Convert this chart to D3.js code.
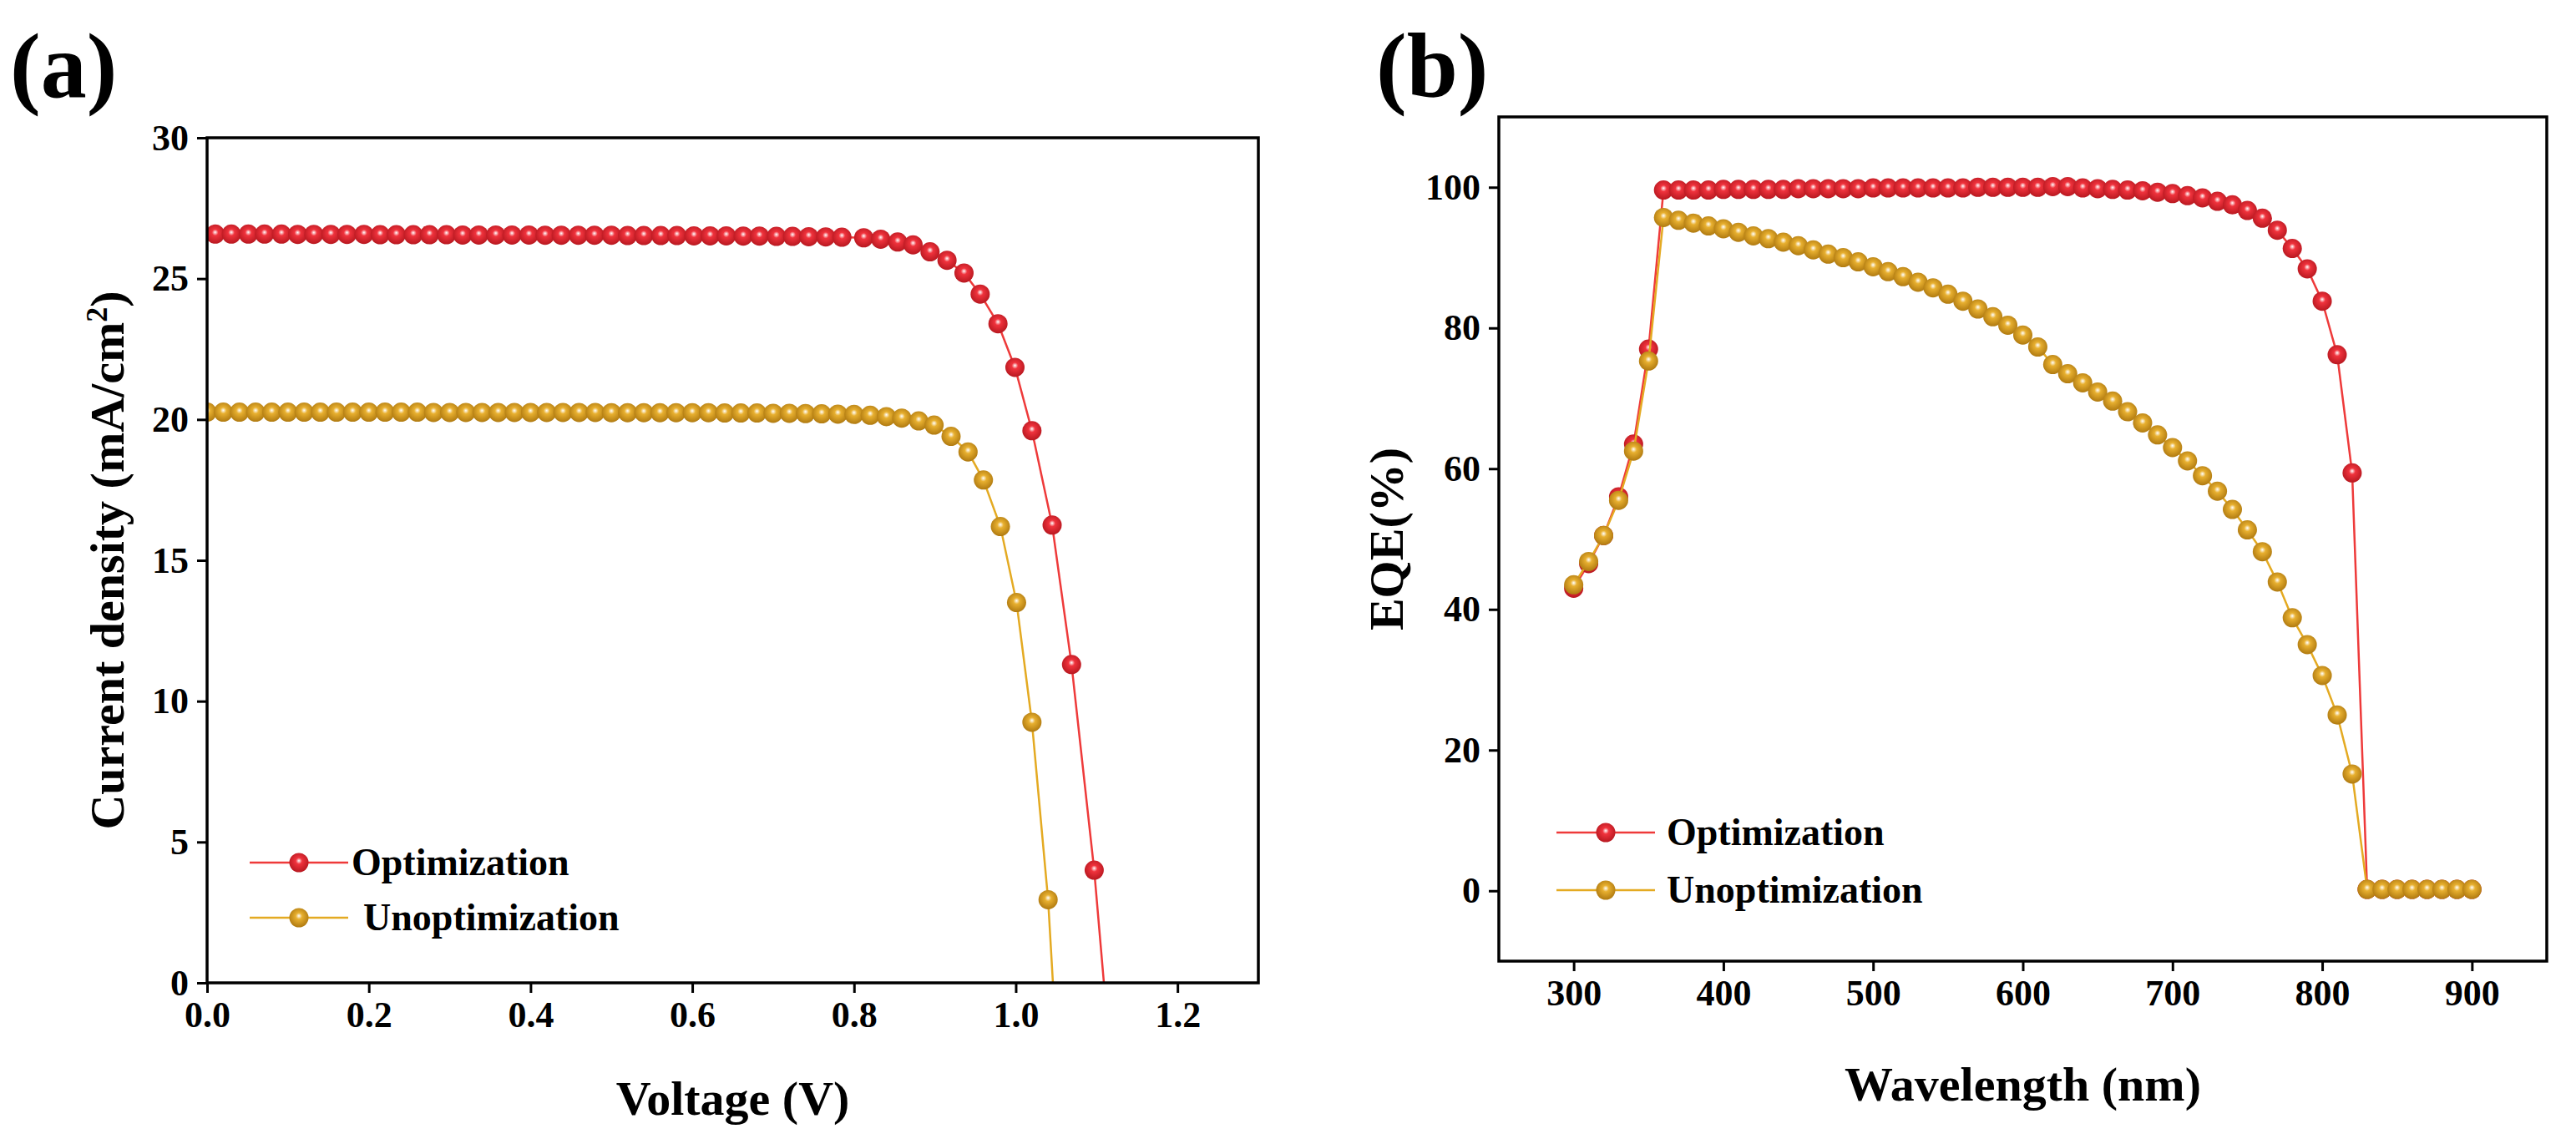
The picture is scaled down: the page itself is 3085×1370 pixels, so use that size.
<!DOCTYPE html>
<html><head><meta charset="utf-8">
<script src="https://cdn.jsdelivr.net/npm/d3@7"></script>
<style>body{margin:0;background:#fff}text{font-family:"Liberation Serif","Times New Roman",serif;font-weight:bold}</style>
</head><body><svg id="c" width="3085" height="1370"></svg>
<script>
// Panel (a) J-V data
const jvOptX=[0.010,0.030,0.051,0.071,0.092,0.112,0.132,0.153,0.173,0.194,0.214,0.234,0.255,0.275,0.296,0.316,0.336,0.357,0.377,0.398,0.418,0.438,0.459,0.479,0.500,0.520,0.540,0.561,0.581,0.602,0.622,0.642,0.663,0.683,0.704,0.724,0.744,0.765,0.785,0.812,0.833,0.854,0.873,0.894,0.915,0.936,0.956,0.978,0.999,1.020,1.045,1.069,1.097,1.115];
const jvOptY=[26.58,26.58,26.58,26.58,26.58,26.57,26.57,26.57,26.57,26.57,26.56,26.56,26.56,26.56,26.56,26.55,26.55,26.55,26.55,26.55,26.54,26.54,26.54,26.54,26.54,26.53,26.53,26.53,26.53,26.52,26.52,26.52,26.51,26.51,26.5,26.5,26.49,26.48,26.47,26.45,26.4,26.3,26.2,25.95,25.65,25.2,24.45,23.4,21.85,19.6,16.25,11.3,4.0,-2];
const jvUnX=[0.00,0.02,0.04,0.06,0.08,0.10,0.12,0.14,0.16,0.18,0.20,0.22,0.24,0.26,0.28,0.30,0.32,0.34,0.36,0.38,0.40,0.42,0.44,0.46,0.48,0.50,0.52,0.54,0.56,0.58,0.60,0.62,0.64,0.66,0.68,0.70,0.72,0.74,0.76,0.78,0.80,0.82,0.840,0.859,0.880,0.899,0.920,0.941,0.960,0.981,1.001,1.020,1.040,1.050];
const jvUnY=[20.26,20.26,20.26,20.26,20.26,20.26,20.26,20.26,20.26,20.26,20.26,20.26,20.26,20.26,20.25,20.25,20.25,20.25,20.25,20.25,20.25,20.25,20.25,20.25,20.25,20.24,20.24,20.24,20.24,20.24,20.24,20.24,20.23,20.23,20.23,20.22,20.22,20.21,20.2,20.19,20.18,20.15,20.1,20.05,19.95,19.8,19.4,18.85,17.85,16.2,13.5,9.25,2.95,-2];
// Panel (b) EQE data
const wl=[300,310,320,330,340,350,360,370,380,390,400,410,420,430,440,450,460,470,480,490,500,510,520,530,540,550,560,570,580,590,600,610,620,630,640,650,660,670,680,690,700,710,720,730,740,750,760,770,780,790,800,810,820,830,840,850,860,870,880,890,900];
const eqeOpt=[43,46.5,50.5,56,63.5,77,99.6,99.6,99.6,99.6,99.7,99.7,99.7,99.7,99.7,99.8,99.8,99.8,99.8,99.8,99.9,99.9,99.9,99.9,99.9,99.9,99.9,100,100,100,100,100,100.1,100.1,99.9,99.8,99.7,99.6,99.5,99.3,99.1,98.8,98.5,98,97.5,96.7,95.6,93.9,91.3,88.4,83.8,76.2,59.4,0.2,0.2,0.2,0.2,0.2,0.2,0.2,0.2];
const eqeUn=[43.5,46.8,50.5,55.5,62.5,75.3,95.7,95.3,94.9,94.5,94.1,93.6,93.1,92.7,92.2,91.7,91.1,90.5,90,89.4,88.7,88,87.3,86.5,85.7,84.8,83.8,82.7,81.6,80.4,79,77.3,74.8,73.5,72.2,70.9,69.6,68.1,66.5,64.8,63,61.1,59,56.8,54.2,51.3,48.2,43.9,38.8,35,30.6,25,16.6,0.2,0.2,0.2,0.2,0.2,0.2,0.2,0.2];
const seriesNames=["Optimization","Unoptimization"];
const jvXTicks=[0,0.2,0.4,0.6,0.8,1.0,1.2], jvYTicks=[0,5,10,15,20,25,30];
const wlTicks=[300,400,500,600,700,800,900], eqeTicks=[0,20,40,60,80,100];

const svg=d3.select("#c");
const colors=[{line:"#ee3a3a",base:"#f0333d",dark:"#b81820"},{line:"#e4aa22",base:"#e8b030",dark:"#b07a10"}];
const defs=svg.append("defs");
colors.forEach((c,i)=>{const g=defs.append("radialGradient").attr("id","g"+i).attr("cx","50%").attr("cy","45%").attr("r","55%").attr("fx","50%").attr("fy","40%");
g.append("stop").attr("offset","0%").attr("stop-color","#fff");
g.append("stop").attr("offset","30%").attr("stop-color",c.base);
g.append("stop").attr("offset","100%").attr("stop-color",c.dark);});

function panel(o){
  const g=svg.append("g");
  const x=d3.scaleLinear().domain(o.xd).range([o.l,o.r]);
  const y=d3.scaleLinear().domain(o.yd).range([o.b,o.t]);
  const cid="clip"+o.id;
  defs.append("clipPath").attr("id",cid).append("rect").attr("x",o.l).attr("y",o.t).attr("width",o.r-o.l).attr("height",o.b-o.t);
  const xa=g.append("g").attr("transform",`translate(0,${o.b})`).call(d3.axisBottom(x).tickValues(o.xt).tickSize(12).tickPadding(10).tickFormat(o.xf));
  const ya=g.append("g").attr("transform",`translate(${o.l},0)`).call(d3.axisLeft(y).tickValues(o.yt).tickSize(12).tickPadding(10).tickFormat(d3.format("d")));
  [xa,ya].forEach(a=>{a.selectAll("path").remove();a.selectAll("line").attr("stroke","#000").attr("stroke-width",3);a.selectAll("text").attr("font-size",44).attr("fill","#000").style("font-family",'"Liberation Serif",serif').style("font-weight","bold");});
  const pg=g.append("g").attr("clip-path",`url(#${cid})`);
  o.series.forEach((s,i)=>{
    const pts=s.x.map((v,k)=>[v,s.y[k]]);
    pg.append("path").attr("d",d3.line().x(d=>x(d[0])).y(d=>y(d[1]))(pts)).attr("fill","none").attr("stroke",colors[i].line).attr("stroke-width",2.5);
    pg.selectAll(null).data(pts).enter().append("circle").attr("cx",d=>x(d[0])).attr("cy",d=>y(d[1])).attr("r",11.5).attr("fill",`url(#g${i})`);
  });
  g.append("rect").attr("x",o.l).attr("y",o.t).attr("width",o.r-o.l).attr("height",o.b-o.t).attr("fill","none").attr("stroke","#000").attr("stroke-width",3.5);
  seriesNames.forEach((n,i)=>{
    const ly=o.legY+i*o.legDy;
    g.append("line").attr("x1",o.legX).attr("x2",o.legX+118).attr("y1",ly).attr("y2",ly).attr("stroke",colors[i].line).attr("stroke-width",2.5);
    g.append("circle").attr("cx",o.legX+59).attr("cy",ly).attr("r",11.5).attr("fill",`url(#g${i})`);
    g.append("text").attr("x",o.legTx[i]).attr("y",ly+15).attr("font-size",46).text(n);
  });
  g.append("text").attr("x",(o.l+o.r)/2).attr("y",o.xtY).attr("text-anchor","middle").attr("font-size",58).text(o.xtitle);
  const yt=g.append("text").attr("transform",`translate(${o.ytX},${(o.t+o.b)/2}) rotate(-90)`).attr("text-anchor","middle").attr("font-size",58);
  o.ytitle(yt);
  g.append("text").attr("x",o.labX).attr("y",o.labY).attr("font-size",110).text(o.lab);
}
panel({id:"a",l:248,r:1507,t:165,b:1177,xd:[0,1.3],yd:[0,30],xt:jvXTicks,yt:jvYTicks,xf:d3.format(".1f"),
  series:[{x:jvOptX,y:jvOptY},{x:jvUnX,y:jvUnY}],legX:299,legY:1033,legDy:66,legTx:[421,435],
  xtitle:"Voltage (V)",xtY:1335,ytX:148,ytitle:t=>{t.append("tspan").text("Current density (mA/cm");t.append("tspan").attr("baseline-shift","super").attr("font-size",36).text("2");t.append("tspan").text(")");},
  lab:"(a)",labX:12,labY:116});
panel({id:"b",l:1795,r:3050,t:140,b:1151,xd:[250,950],yd:[-10,110],xt:wlTicks,yt:eqeTicks,xf:d3.format("d"),
  series:[{x:wl,y:eqeOpt},{x:wl,y:eqeUn}],legX:1864,legY:997,legDy:69,legTx:[1996,1996],
  xtitle:"Wavelength (nm)",xtY:1318,ytX:1680,ytitle:t=>t.text("EQE(%)"),
  lab:"(b)",labX:1648,labY:116});
</script></body></html>
